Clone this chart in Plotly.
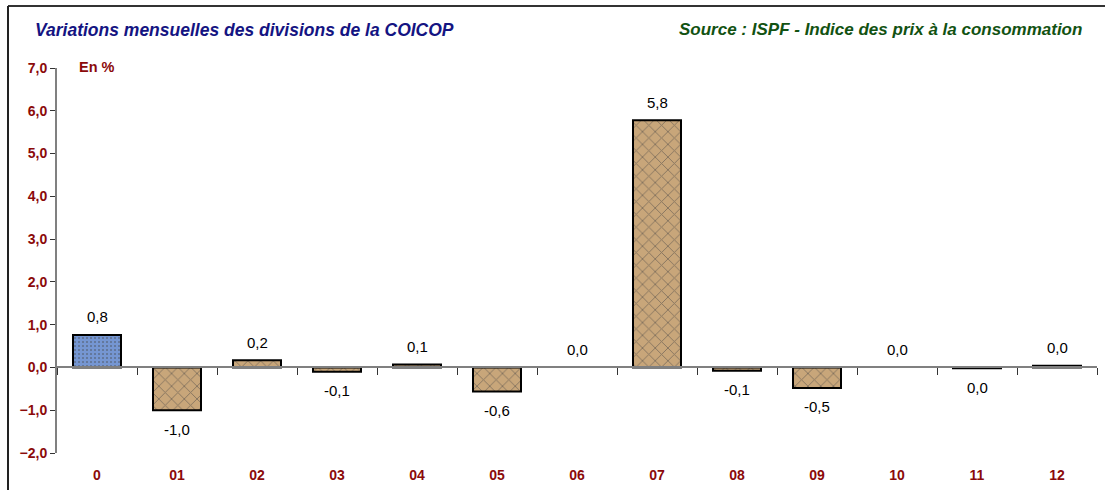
import plotly.graph_objects as go

categories = ["0", "01", "02", "03", "04", "05", "06", "07", "08", "09", "10", "11", "12"]
values = [0.76, -1.0, 0.17, -0.1, 0.07, -0.56, 0.0, 5.78, -0.08, -0.48, 0.0, -0.02, 0.04]
y_ticks = [-2, -1, 0, 1, 2, 3, 4, 5, 6, 7]

BLUE_BG, BLUE_FG = "#7596d2", "#3d5c9e"
TAN_BG, TAN_FG = "#c8a67a", "#94724a"
RED = "#8b0a0a"
FONT = "Liberation Sans, Arial, sans-serif"

def fmt(v):
    r = round(v, 1)
    if r == 0:
        r = 0.0
    return f"{abs(r) if r == 0 else r:.1f}".replace(".", ",")

bg = [BLUE_BG if c == "0" else TAN_BG for c in categories]
fg = [BLUE_FG if c == "0" else TAN_FG for c in categories]
lw = [0 if v == 0 else 2 for v in values]

fig = go.Figure()
fig.add_trace(go.Bar(
    x=categories, y=values, width=0.6,
    marker=dict(color=bg, line=dict(color="black", width=lw),
                pattern=dict(shape=["." if c == "0" else "x" for c in categories],
                             fgcolor=fg, bgcolor=bg, size=[4 if c == "0" else 9 for c in categories],
                             solidity=0.2, fillmode="overlay")),
    hoverinfo="skip", showlegend=False,
))
fig.add_trace(go.Scatter(x=categories, y=values, xaxis="x2", mode="markers",
                         marker=dict(opacity=0), hoverinfo="skip", showlegend=False))

for c, v in zip(categories, values):
    up = v >= 0
    fig.add_annotation(x=c, y=v, text=fmt(v), showarrow=False, yanchor="middle",
                       yshift=18 if up else -19,
                       font=dict(family=FONT, size=15, color="black"))

W, H = 1105, 490
ml, mr, mt, mb = 57, 8, 68, 37
pw, ph = W - ml - mr, H - mt - mb
def px(x): return (x - ml) / pw
def py(y): return (H - mb - y) / ph

fig.add_annotation(xref="paper", yref="paper", x=px(33), y=py(30), xanchor="left", yanchor="middle",
                   text="<b><i>Variations mensuelles des divisions de la COICOP</i></b>", showarrow=False,
                   font=dict(family=FONT, size=17.5, color="#141482"))
fig.add_annotation(xref="paper", yref="paper", x=px(1084), y=py(30), xanchor="right", yanchor="middle",
                   text="<b><i>Source : ISPF - Indice des prix à la consommation</i></b>", showarrow=False,
                   font=dict(family=FONT, size=17, color="#125212"))
fig.add_annotation(xref="paper", yref="paper", x=px(77), y=py(67), xanchor="left", yanchor="middle",
                   text="<b>En %</b>", showarrow=False,
                   font=dict(family=FONT, size=14.5, color=RED))
# outer frame (top and left)
fig.add_shape(type="line", xref="paper", yref="paper", x0=px(8), x1=px(1105), y0=py(6), y1=py(6),
              line=dict(color="#333333", width=2))
fig.add_shape(type="line", xref="paper", yref="paper", x0=px(8), x1=px(8), y0=py(6), y1=py(490),
              line=dict(color="#222222", width=2))

fig.update_layout(
    width=W, height=H, margin=dict(l=ml, r=mr, t=mt, b=mb),
    paper_bgcolor="white", plot_bgcolor="white", separators=", ",
    xaxis=dict(type="category", range=[-0.5, 12.5], showline=False, showgrid=False, ticks="",
               ticklabelstandoff=12, tickfont=dict(family=FONT, size=14, color=RED, weight="bold")),
    xaxis2=dict(type="category", overlaying="x", matches="x", anchor="free", position=2 / 9,
                showline=True, linecolor="#808080", linewidth=2, showgrid=False,
                ticks="outside", tickson="boundaries", ticklen=7, tickcolor="#333333", tickwidth=1,
                showticklabels=False),
    yaxis=dict(range=[-2, 7], tickvals=y_ticks, tickformat=".1f", showgrid=False, zeroline=False,
               showline=True, linecolor="#808080", linewidth=2, ticks="outside", ticklen=5,
               tickcolor="#333333", tickwidth=1,
               tickfont=dict(family=FONT, size=14, color=RED, weight="bold")),
)

fig.write_html("out.html", config={"displayModeBar": False},
               post_script="document.body.style.margin='0';document.body.style.overflow='hidden';")
